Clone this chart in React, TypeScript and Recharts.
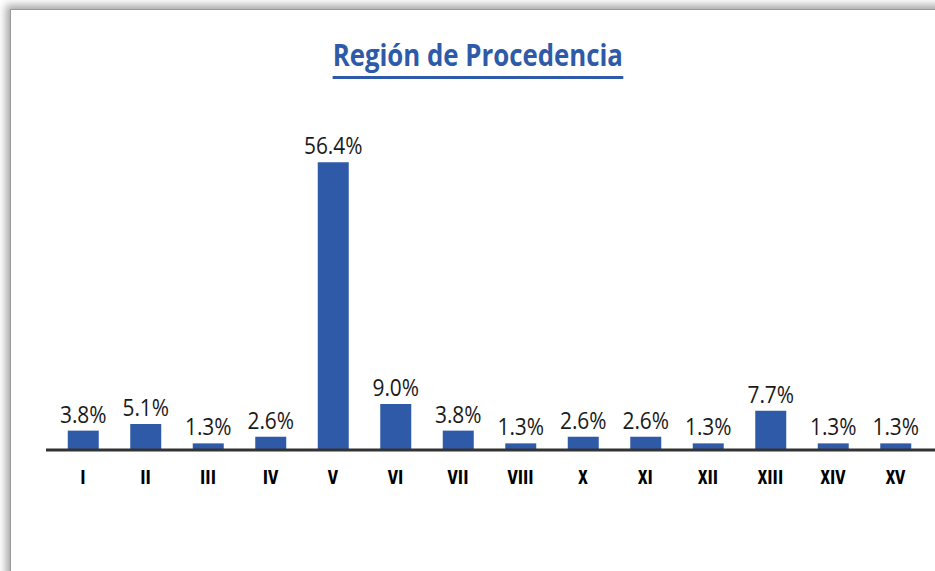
import React from "react";
import { BarChart, Bar, XAxis, YAxis, LabelList } from "recharts";

const regions = ["I", "II", "III", "IV", "V", "VI", "VII", "VIII", "X", "XI", "XII", "XIII", "XIV", "XV"];
const percents = [3.8, 5.1, 1.3, 2.6, 56.4, 9.0, 3.8, 1.3, 2.6, 2.6, 1.3, 7.7, 1.3, 1.3];
const titleText = "Región de Procedencia";

const data = regions.map((r, i) => ({ region: r, value: percents[i] }));

const FONT = '"Open Sans", sans-serif';
const BLUE = "#2E5AA7";

const Tick = (props: any) => {
  const { x, y, payload } = props;
  return (
    <text
      x={x}
      y={y + 26}
      textAnchor="middle"
      fill="#000"
      fontFamily={FONT}
      fontWeight="bold"
      fontSize={20}
      style={{ fontStretch: "75%" }}
    >
      {payload.value}
    </text>
  );
};

const ValueLabel = (props: any) => {
  const { x, y, width, value } = props;
  const cx = Number(x) + Number(width) / 2;
  const cy = Number(y) - 8;
  return (
    <text
      transform={`translate(${cx},${cy}) scale(0.87,1)`}
      textAnchor="middle"
      fontFamily={FONT}
      fontSize={24}
      fill="#1a1a1a"
    >
      {`${Number(value).toFixed(1)}%`}
    </text>
  );
};

export default function App() {
  return (
    <div style={{ position: "absolute", left: 0, top: 0, width: 935, height: 571, overflow: "hidden", background: "#fff" }}>
      <div
        style={{
          position: "absolute",
          left: 10,
          top: 9,
          width: 940,
          height: 580,
          background: "#fff",
          borderLeft: "1px solid #9a9a9a",
          borderTop: "1px solid #9a9a9a",
          boxShadow: "-4px -4px 8px rgba(0,0,0,0.35)",
        }}
      />
      <div style={{ position: "absolute", left: 0, top: 40, width: 956, textAlign: "center" }}>
        <span
          style={{
            display: "inline-block",
            fontFamily: FONT,
            fontWeight: "bold",
            fontSize: 30,
            lineHeight: "30px",
            color: BLUE,
            paddingBottom: 6,
            borderBottom: `3px solid ${BLUE}`,
            transform: "scaleX(0.86)",
          }}
        >
          {titleText}
        </span>
      </div>
      <div style={{ position: "absolute", left: 0, top: 0 }}>
        <BarChart
          width={935}
          height={571}
          data={data}
          margin={{ top: 144, right: 0, bottom: 91, left: 46 }}
        >
          <YAxis hide domain={[0, 60]} />
          <XAxis
            dataKey="region"
            height={30}
            padding={{ left: 5.75, right: 8.25 }}
            axisLine={{ stroke: "#333", strokeWidth: 3 }}
            tickLine={false}
            tick={<Tick />}
            interval={0}
          />
          <Bar dataKey="value" fill={BLUE} barSize={31} isAnimationActive={false}>
            <LabelList dataKey="value" content={<ValueLabel />} />
          </Bar>
        </BarChart>
      </div>
    </div>
  );
}
